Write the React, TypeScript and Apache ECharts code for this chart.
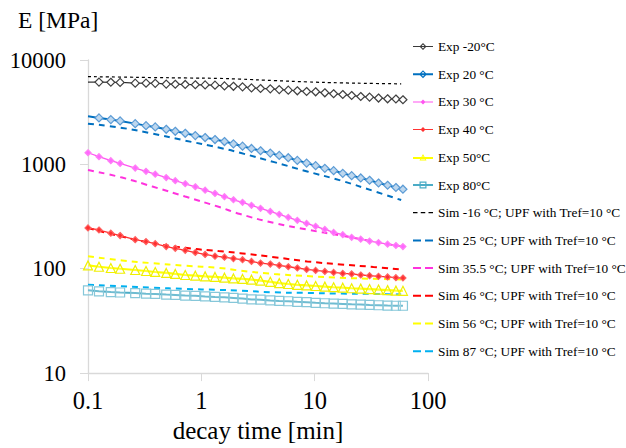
import React, { useEffect, useRef } from "react";
import * as echarts from "echarts";

// decay time [min] of the experimental points
const expTime = [0.1, 0.125, 0.159, 0.192, 0.261, 0.325, 0.392, 0.49, 0.589, 0.721, 0.885, 1.08, 1.32, 1.6, 1.92, 2.31, 2.77, 3.33, 4.06, 4.87, 5.85, 7.03, 8.49, 10.2, 12.3, 14.7, 17.7, 21.2, 25.5, 30.5, 36.6, 44.0, 52.1, 60.1];
// decay time [min] of the simulation curves
const simTime = [0.1, 0.2, 0.37, 0.72, 1.42, 2.2, 4.4, 8.6, 17, 33, 58];

// E [MPa], experiments
const expM20 = [6140, 6140, 6120, 6100, 6000, 6000, 5980, 5880, 5860, 5830, 5790, 5770, 5740, 5650, 5600, 5530, 5410, 5330, 5290, 5210, 5140, 5070, 4990, 4960, 4850, 4750, 4670, 4570, 4470, 4410, 4320, 4250, 4230, 4160];
const exp20 = [2884, 2786, 2685, 2608, 2456, 2350, 2284, 2168, 2075, 1985, 1888, 1807, 1729, 1655, 1574, 1494, 1420, 1350, 1282, 1218, 1158, 1092, 1029, 972, 916, 871, 821, 780, 741, 704, 663, 631, 600, 578];
const exp30 = [1292, 1184, 1084, 1021, 922, 858, 805, 747, 698, 652, 610, 566, 527, 490, 458, 433, 405, 379, 354, 332, 311, 291, 272, 255, 238, 223, 212, 200, 192, 184, 178, 172, 167, 163];
const exp40 = [246, 235, 219, 208, 190, 182, 174, 163, 157, 150, 143, 137, 132, 129, 125, 122, 117.4, 113.3, 110.9, 107.5, 104.5, 101.6, 98.5, 96.4, 94.3, 92.2, 90.2, 89.1, 87.1, 85.8, 84.5, 83.4, 82.1, 81.5];
const exp50 = [107.5, 104.5, 101.6, 100, 97.2, 95.1, 93.1, 91.1, 89.1, 87.1, 85.8, 84.5, 83.4, 82.1, 80.8, 79.8, 78.6, 76.9, 74.9, 72.8, 71.4, 70.1, 69.2, 68.3, 67.4, 66.5, 65.8, 65.0, 64.5, 63.8, 63.1, 62.4, 61.7, 61.4];
const exp80 = [62.1, 60.8, 59.7, 59.2, 58.4, 57.7, 57.3, 56.5, 56.1, 55.3, 55.0, 54.3, 53.7, 53.2, 52.5, 51.8, 50.8, 50.5, 49.7, 49.2, 48.8, 48.2, 47.8, 47.1, 46.7, 46.4, 46.0, 45.6, 45.4, 45.0, 44.7, 44.4, 44.2, 44.2];

// E [MPa], simulations (UPF with Tref=10 °C)
const simM16 = [6930, 6860, 6790, 6730, 6660, 6560, 6350, 6170, 6040, 5960, 5910];
const sim25 = [2456, 2235, 1975, 1690, 1450, 1290, 1050, 855, 700, 556, 455];
const sim355 = [883, 747, 613, 492, 392, 334, 274, 237, 208, 182, 164];
const sim46 = [246, 203, 176, 158.5, 147.5, 141, 129, 117.5, 110, 104, 98.5];
const sim56 = [132, 120, 113, 107, 102, 96, 89, 85, 82, 80, 79];
const sim87 = [70.4, 67.8, 65.9, 64.1, 62.7, 61.7, 59.4, 58.7, 57.8, 57.4, 56.9];

const xTicks = ["0.1", "1", "10", "100"];
const yTicks = ["10", "100", "1000", "10000"];

const FONT = "Liberation Serif, serif";

// legend icons (20 px wide)
const ICON_DIAMOND_HOLLOW = "path://M0,3H20V4H0Z M10,0L13.5,3.5L10,7L6.5,3.5Z M10,1.4L8.1,3.5L10,5.6L11.9,3.5Z";
const ICON_DIAMOND_BLUE = "path://M0,3H20V5H0Z M10,0L14,4L10,8L6,4Z M10,1.6L7.6,4L10,6.4L12.4,4Z";
const ICON_DIAMOND_SMALL = "path://M0,2H20V3H0Z M10,0L12.5,2.5L10,5L7.5,2.5Z";
const ICON_TRIANGLE = "path://M0,3H20V5H0Z M10,0L13.5,6.5L6.5,6.5Z M10,1.9L7.9,5.5L12.1,5.5Z";
const ICON_SQUARE = "path://M0,2.5H20V4.5H0Z M6.5,0H13.5V7H6.5Z M7.7,1.2V5.8H12.3V1.2Z";
const ICON_DOTS = "path://M0,0H4.5V1.2H0Z M7.75,0H12.25V1.2H7.75Z M15.5,0H20V1.2H15.5Z";
const ICON_DASH = "path://M0,0H8V2H0Z M12,0H20V2H12Z";

const pair = (xs: number[], ys: number[], firstBare = false) =>
  xs.map((x, i) => (firstBare && i === 0 ? { value: [x, ys[i]], symbol: "none" } : [x, ys[i]]));

export default function App() {
  const ref = useRef<HTMLDivElement>(null);
  useEffect(() => {
    if (!ref.current) return;
    const chart = echarts.init(ref.current, undefined, { renderer: "svg" });

    const expSeries = (name: string, ys: number[], line: string, width: number, symbol: string, size: number, fill: string, border: string, firstBare = false) => ({
      name,
      type: "line",
      data: pair(expTime, ys, firstBare),
      symbol,
      symbolSize: size,
      showSymbol: true,
      lineStyle: { color: line, width },
      itemStyle: { color: fill, borderColor: border, borderWidth: 1.2 },
      z: 3,
    });
    const simSeries = (name: string, ys: number[], color: string, width: number, dash: number[]) => ({
      name,
      type: "line",
      data: pair(simTime, ys),
      smooth: true,
      showSymbol: false,
      symbol: "none",
      lineStyle: { color, width, type: dash },
      itemStyle: { color },
      z: 2,
    });
    const leg = (name: string, icon: string, color: string) => ({
      name,
      icon,
      itemStyle: { color, borderColor: color, borderWidth: 0 },
    });

    chart.setOption({
      animation: false,
      backgroundColor: "#fff",
      grid: { left: 88, top: 60, right: 198, bottom: 71, containLabel: false },
      graphic: [
        {
          type: "text",
          left: 18,
          top: 8,
          style: { text: "E [MPa]", fontFamily: FONT, fontSize: 23.5, fill: "#000" },
        },
      ],
      legend: {
        orient: "vertical",
        left: 408,
        top: 35,
        itemWidth: 20,
        itemHeight: 14,
        itemGap: 14.7,
        symbolKeepAspect: true,
        textStyle: { fontFamily: FONT, fontSize: 13.3, color: "#000" },
        data: [
          leg("Exp -20°C", ICON_DIAMOND_HOLLOW, "#3a3a3a"),
          leg("Exp 20 °C", ICON_DIAMOND_BLUE, "#0070C0"),
          leg("Exp 30 °C", ICON_DIAMOND_SMALL, "#FF55F0"),
          leg("Exp 40 °C", ICON_DIAMOND_SMALL, "#FF3333"),
          leg("Exp 50°C", ICON_TRIANGLE, "#FFFF00"),
          leg("Exp 80°C", ICON_SQUARE, "#4BACC6"),
          leg("Sim -16 °C; UPF with Tref=10 °C", ICON_DOTS, "#000000"),
          leg("Sim 25 °C; UPF with Tref=10 °C", ICON_DASH, "#0070C0"),
          leg("Sim 35.5 °C; UPF with Tref=10 °C", ICON_DASH, "#FF33DD"),
          leg("Sim 46 °C; UPF with Tref=10 °C", ICON_DASH, "#FF0000"),
          leg("Sim 56 °C; UPF with Tref=10 °C", ICON_DASH, "#FFFF00"),
          leg("Sim 87 °C; UPF with Tref=10 °C", ICON_DASH, "#00B0F0"),
        ],
      },
      xAxis: {
        type: "log",
        logBase: 10,
        min: 0.1,
        max: 100,
        name: "decay time [min]",
        nameLocation: "middle",
        nameGap: 42,
        nameTextStyle: { fontFamily: FONT, fontSize: 25, color: "#000" },
        axisLine: { lineStyle: { color: "#d9d9d9", width: 1.3 } },
        axisTick: { show: true, length: 8, lineStyle: { color: "#d9d9d9" } },
        minorTick: { show: false },
        splitLine: { show: false },
        axisLabel: {
          fontFamily: FONT,
          fontSize: 24.5,
          color: "#000",
          margin: 15,
          formatter: (v: number) => xTicks.find((t) => Math.abs(parseFloat(t) - v) < 1e-9 * Math.max(1, v)) ?? String(v),
        },
      },
      yAxis: {
        type: "log",
        logBase: 10,
        min: 10,
        max: 10000,
        axisLine: { show: true, lineStyle: { color: "#d9d9d9", width: 1.3 } },
        axisTick: { show: true, length: 8, lineStyle: { color: "#d9d9d9" } },
        splitLine: { show: false },
        axisLabel: {
          fontFamily: FONT,
          fontSize: 22.5,
          color: "#000",
          margin: 22,
          formatter: (v: number) => yTicks.find((t) => Math.abs(parseFloat(t) - v) < 1e-6 * v) ?? String(v),
        },
      },
      series: [
        expSeries("Exp -20°C", expM20, "#000000", 1, "diamond", 8, "#ffffff", "#404040", true),
        expSeries("Exp 20 °C", exp20, "#0070C0", 2, "diamond", 8, "#BDD7EE", "#5B9BD5", true),
        expSeries("Exp 30 °C", exp30, "#FF55F0", 1.3, "diamond", 6, "#FF66FF", "#FF80F5"),
        expSeries("Exp 40 °C", exp40, "#FF3333", 1.3, "diamond", 6, "#FF3030", "#FF6060"),
        expSeries("Exp 50°C", exp50, "#FFFF00", 2.2, "triangle", 9, "rgba(255,255,255,0.2)", "#F0F000"),
        expSeries("Exp 80°C", exp80, "#4BACC6", 2, "rect", 9, "rgba(255,255,255,0.2)", "#86C7D9"),
        simSeries("Sim -16 °C; UPF with Tref=10 °C", simM16, "#000000", 1.2, [3, 3]),
        simSeries("Sim 25 °C; UPF with Tref=10 °C", sim25, "#0070C0", 2, [6, 5]),
        simSeries("Sim 35.5 °C; UPF with Tref=10 °C", sim355, "#FF33DD", 2, [6, 5]),
        simSeries("Sim 46 °C; UPF with Tref=10 °C", sim46, "#FF0000", 2, [6, 5]),
        simSeries("Sim 56 °C; UPF with Tref=10 °C", sim56, "#FFFF00", 2, [6, 5]),
        simSeries("Sim 87 °C; UPF with Tref=10 °C", sim87, "#00B0F0", 2, [6, 5]),
      ],
    });
    return () => chart.dispose();
  }, []);
  return <div ref={ref} style={{ width: 626, height: 448, position: "absolute", left: 0, top: 0 }} />;
}
